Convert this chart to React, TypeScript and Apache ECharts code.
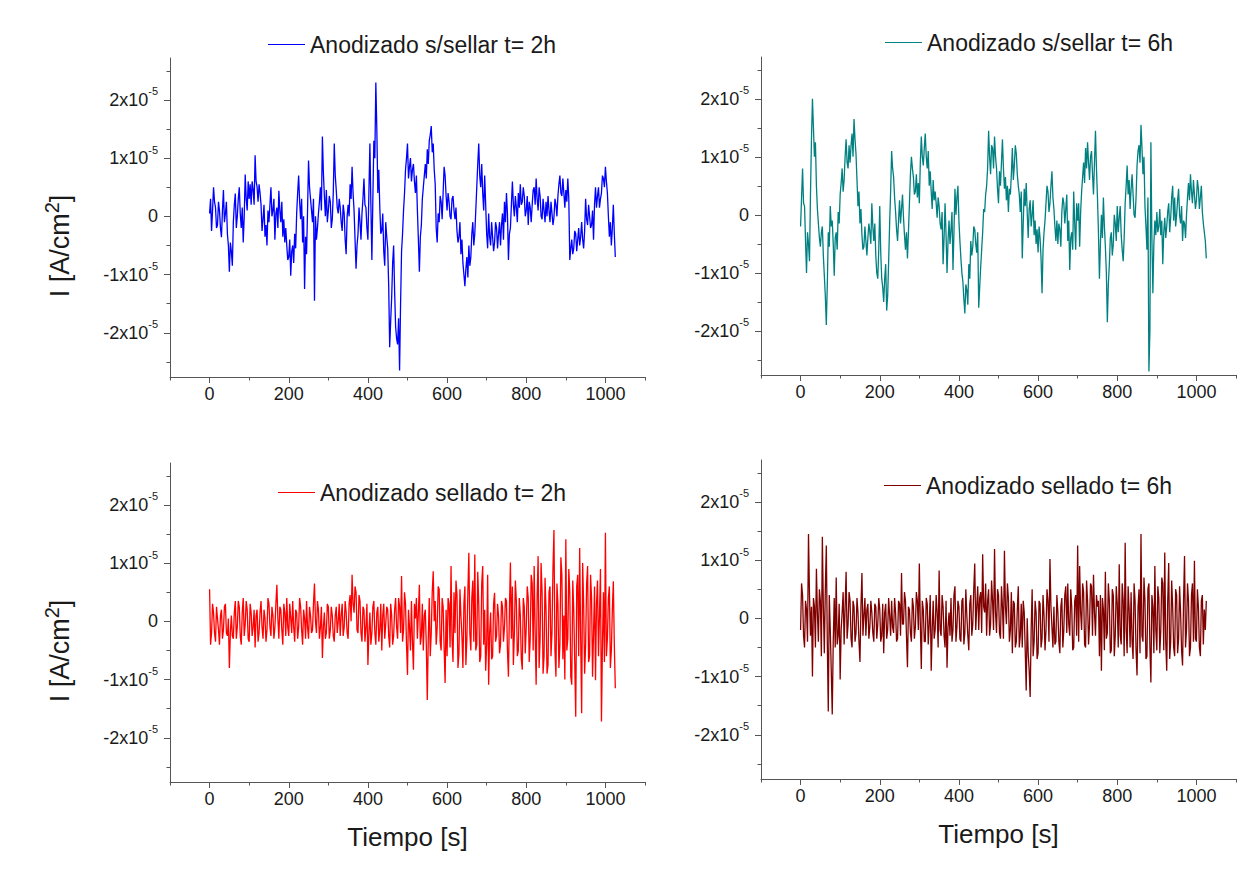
import React, { useEffect, useRef } from 'react';
import * as echarts from 'echarts';

// Sampling interval of the read-off values (seconds); "Mid" arrays are read half a step later
const STEP_S = 5;
// Values below are in units of 1e-6 A/cm2
const UNIT = 1e-6;

const sinSellar2h = [
  0.5, -2.5, 5.0, 1.5, -1.5, 1.0, -3.6, 4.5, 0.5, -3.0,
  -9.5, -6.0, -1.0, 3.9, 0.0, 5.0, -2.0, -4.5, 7.2, 1.0,
  3.0, 2.0, 4.5, 10.5, 5.0, 5.5, 2.0, -0.5, -3.5, -5.0,
  -1.0, 5.0, 1.0, -4.0, 1.5, 4.4, -1.0, -3.5, -4.5, -5.0,
  -7.0, -10.2, -5.0, -3.0, 0.5, 7.0, -0.5, -4.5, -12.5, -6.5,
  9.6, 3.0, -1.0, -14.5, -4.0, 0.5, 5.0, 13.7, 3.5, 4.5,
  1.0, 2.5, -0.5, 12.5, 4.5, 0.5, 1.5, -2.5, 0.5, -6.5,
  2.0, 5.5, 8.5, 1.0, -9.0, -3.0, -1.0, 0.5, 6.5, 1.5,
  -4.0, 12.5, -7.5, 13.0, 23.0, 4.0, 1.5, -2.5, -6.0, -1.0,
  -5.5, -22.5, -14.0, -5.0, -19.0, -22.0, -26.5, -6.0, 1.0, 8.0,
  12.5, 8.5, 6.0, 9.0, 4.0, 1.0, -9.5, -1.5, 5.0, 9.0,
  11.5, 13.0, 15.5, 12.5, 5.5, -4.5, -1.0, 2.5, 4.0, 7.0,
  1.0, 2.5, -0.5, 3.5, -0.5, -2.5, -3.5, -6.5, -8.0, -12.0,
  -7.0, -5.0, -7.0, -1.0, -3.0, 5.0, 12.5, 5.0, 4.0, 7.0,
  -3.0, 0.5, -5.0, -3.5, -4.5, -2.0, -3.0, -5.0, 0.5, 2.5,
  4.0, -7.5, -2.0, 6.0, 0.0, 1.5, 4.0, 5.5, 2.5, 3.5,
  1.0, -1.5, 1.5, 2.0, 5.0, 6.5, 1.0, 3.5, -0.5, 1.0,
  2.5, 3.5, -1.0, 0.5, -0.2, 2.0, 3.5, 7.0, 3.5, 4.0,
  4.5, 6.5, -7.5, -4.0, -5.5, -3.0, -4.0, -5.0, -1.0, -5.5,
  3.0, -1.5, 0.0, -1.5, -4.0, 5.0, 3.5, 1.5, 4.0, 6.5,
  8.5, 4.0, -3.5, -5.0, 2.0, -7.0,
];
const sinSellar2hMid = [
  3.0, 1.0, 2.5, -2.0, 2.5, -2.0, 1.0, -1.0, 2.5, -5.0,
  -4.5, -8.5, 2.0, -2.0, 3.0, 0.5, 1.5, 0.0, 3.0, 6.0,
  5.5, 6.0, 2.0, 6.0, 2.5, 4.0, -2.5, 2.0, -1.5, 1.0,
  2.0, 0.0, 3.0, 0.5, -2.0, 1.0, 2.5, -0.5, -2.0, -7.5,
  -4.0, -6.0, -8.0, -5.5, 4.0, 2.5, 3.0, 0.0, -3.5, 1.0,
  5.0, 1.0, 3.0, 0.0, -2.0, 2.5, 1.0, 7.5, 0.0, -1.0,
  3.5, -2.0, 4.0, 7.0, 1.5, 3.0, -1.0, 2.0, -4.0, 0.0,
  0.0, 3.0, 4.0, -4.0, -5.0, 1.5, -4.0, 3.0, 2.0, -2.0,
  4.0, 2.0, 3.0, 10.0, 15.0, 8.0, -3.0, 0.5, -8.5, -3.5,
  -12.0, -18.0, -8.0, -13.0, -21.0, -17.5, -15.0, -3.0, 4.0, 10.0,
  6.5, 10.0, 8.0, 6.0, 7.0, -4.0, -3.5, 3.0, 7.0, 6.5,
  9.0, 14.0, 11.0, 8.0, -2.0, 0.5, 3.5, -0.5, 8.5, 3.5,
  4.0, 0.0, 3.0, 1.0, 1.5, -4.5, -1.0, -4.0, -10.0, -9.0,
  -10.5, -8.5, -3.0, -5.0, 1.0, 9.0, 7.0, 9.0, 1.0, 2.0,
  -5.5, -3.5, -1.0, -6.0, -1.0, -5.5, -1.0, -1.5, -4.0, -1.0,
  0.5, -3.0, 2.0, 2.0, 3.5, -1.0, 1.5, 2.0, 5.0, 0.0,
  3.5, 2.5, -1.0, 4.5, 2.0, 3.0, 5.0, 0.0, 3.0, -1.0,
  0.0, 1.0, 2.5, -1.5, 3.0, 0.0, 5.5, 4.0, 6.5, 1.5,
  2.5, 3.0, -5.5, -6.5, -2.5, -6.0, -2.0, -3.5, -4.0, -2.5,
  -0.5, 2.0, -2.0, 1.0, 2.0, 1.5, 5.0, 3.0, 7.0, 5.0,
  6.0, 0.0, -1.0, -2.0, -3.0,
];

const sinSellar6h = [
  -2.0, 8.0, 1.5, -10.0, -5.0, 3.5, 20.0, 10.0, 5.0, -1.5,
  -5.5, -2.0, -10.5, -19.0, -3.0, 1.5, -1.0, -10.5, -3.0, 0.5,
  3.5, 8.0, 6.0, 13.0, 8.0, 9.0, 14.0, 16.5, 10.5, 1.5,
  -1.5, -3.5, -5.5, -4.5, -4.0, -3.0, 2.0, -4.5, -7.0, -11.0,
  1.5, -11.0, -15.0, -8.5, -14.0, -1.5, 11.0, 6.5, 0.5, -4.5,
  2.5, 1.0, -0.5, -6.0, -7.5, 2.0, 10.0, 6.5, 4.0, 3.0,
  2.0, 13.5, 8.5, 14.0, 8.0, 5.0, 4.0, 6.0, 4.0, -0.5,
  1.5, -2.5, -8.5, 2.0, -10.0, -1.0, -2.5, -9.5, 4.5, 3.0,
  -1.0, -7.5, -11.5, -17.0, -13.0, -8.5, -4.5, -5.5, -2.5, -6.5,
  -16.0, -9.0, -3.0, 0.5, 5.0, 14.5, 7.0, 11.5, 13.5, 8.0,
  2.0, 5.0, 13.0, 4.5, 2.5, 0.5, 3.5, 11.5, 8.5, 10.5,
  5.0, 0.5, -7.5, 4.5, 5.5, -4.0, 2.5, 0.0, -3.5, -5.0,
  -6.5, -4.0, -13.5, -3.0, 2.0, 4.0, 2.0, 7.5, 1.0, -4.5,
  -5.0, -2.5, 0.5, 2.0, 1.0, -4.5, -9.5, -3.0, 4.0, -6.0,
  -1.0, -5.5, 4.0, 9.0, 11.5, 12.5, 6.0, 11.0, 3.5, 14.5,
  3.0, -11.0, 0.0, 3.0, -5.5, -18.5, -8.5, -3.0, -5.0, -1.5,
  1.5, -0.5, -3.5, -8.0, 2.0, 8.5, 6.0, 4.5, 3.5, -0.5,
  8.5, 12.0, 15.5, 7.0, 1.5, -6.0, -27.0, 12.5, -13.5, -1.0,
  0.5, -2.0, -3.5, -8.5, -0.5, -2.0, 2.0, -0.5, 5.0, 3.0,
  0.0, 4.5, -1.5, -4.5, -1.5, 0.0, 5.5, 7.0, 2.0, 3.5,
  2.5, 4.5, 3.0, 0.5, -3.0, -7.5,
];
const sinSellar6hMid = [
  3.0, 2.0, -4.5, -3.0, -8.0, 13.0, 15.0, 12.5, 1.0, -4.0,
  -3.0, -7.0, -14.0, -12.0, -5.5, -2.0, -5.0, -4.0, -6.0, -1.5,
  5.5, 4.0, 10.0, 9.0, 12.0, 12.0, 10.0, 13.0, 6.0, 4.0,
  1.0, -6.0, -2.0, -7.0, -1.5, -5.0, -2.0, -1.5, -10.0, -6.0,
  -6.5, -12.5, -11.0, -16.5, -8.0, 4.0, 8.0, 3.0, -2.5, -1.0,
  -1.5, 3.5, -3.5, -3.0, -3.0, 7.0, 8.0, 3.5, 7.0, 5.5,
  9.0, 10.0, 11.5, 10.0, 11.0, 7.5, 1.0, 2.5, 2.0, 3.0,
  -1.5, 0.5, -4.0, -3.5, -4.5, -5.0, 0.5, -3.0, 0.0, 5.0,
  -4.5, -10.0, -14.5, -12.0, -15.5, -11.0, -7.0, -2.0, -5.0, -3.0,
  -12.5, -6.0, 1.0, 3.5, 8.0, 10.0, 12.0, 8.0, 10.0, 4.5,
  7.5, 9.0, 8.0, 6.5, 5.0, 4.5, 7.0, 6.0, 12.0, 7.0,
  3.5, 4.0, -1.5, 1.5, 0.5, 1.0, -2.0, 2.5, -1.0, -2.5,
  -2.0, -7.5, -6.0, -1.0, 5.0, 0.5, 5.0, 3.0, -2.0, -1.0,
  -1.5, -5.5, 3.0, -1.5, 3.5, -1.0, -4.0, -6.0, -1.5, 2.0,
  2.0, 0.5, 6.5, 5.5, 8.0, 9.0, 10.0, 7.0, 9.0, 8.0,
  -3.0, -5.0, -4.0, -2.0, -10.0, -12.0, -4.0, -7.0, 0.0, -4.5,
  -3.0, 1.5, -6.0, -4.0, 5.0, 3.5, 1.0, 7.0, 0.0, 3.0,
  11.0, 9.0, 11.5, 10.0, -2.0, 3.0, -20.0, -4.0, -5.0, -3.5,
  -3.0, 1.0, -1.0, -3.0, -4.0, 0.5, -3.0, 3.0, -1.0, -2.0,
  2.5, 0.0, 1.5, -1.0, -4.0, 3.0, 2.5, 4.0, 6.0, 1.0,
  6.0, 1.0, 5.0, -1.5, -4.5,
];

const sellado2h = [
  5.5, -2.0, 1.5, -3.5, 0.5, -4.0, 2.0, -1.5, 3.0, -2.5,
  -8.0, 1.0, -3.0, 3.5, -1.0, 2.5, -4.0, 4.0, -0.5, 2.0,
  -3.5, 1.5, -1.0, -4.5, 2.0, -2.0, 3.5, -3.0, 0.5, -1.5,
  3.0, -2.5, 1.0, -1.0, 6.3, -3.0, 2.0, -4.0, 1.5, 4.0,
  -2.5, 0.5, 3.5, -3.5, 1.5, -1.0, 2.5, -4.0, 0.5, 3.5,
  -3.0, 1.0, -1.5, 6.5, -2.0, 2.0, -1.0, -6.3, 1.5, -2.0,
  2.5, -1.5, 1.0, -3.5, 2.5, 0.0, -2.5, 3.0, -1.0, 1.5,
  -3.0, 4.5, 8.0, 1.5, 5.0, -2.0, 3.5, -3.5, 2.0, -1.0,
  -7.5, 1.5, -2.0, 3.5, -4.0, 2.5, -1.5, -5.0, 3.0, -0.5,
  2.0, -4.5, 1.0, -2.5, 4.0, -3.0, 2.5, 7.8, -1.5, 3.0,
  -9.2, -1.0, 3.5, -8.3, 0.5, -3.0, 6.3, -2.5, -5.0, 2.0,
  -13.5, 4.0, -2.0, 8.6, 3.5, -1.0, 5.5, -5.0, 2.5, -10.6,
  -6.0, 3.0, 9.5, -7.0, -2.0, 4.5, -5.5, 1.0, -8.0, 6.0,
  -3.0, 11.8, -5.0, 7.0, 11.5, -4.0, 3.0, -6.0, 9.5, 2.0,
  -4.0, -10.9, 1.5, -6.0, 4.9, -2.5, 1.0, -4.0, 2.5, -1.0,
  3.5, -9.5, 10.1, 6.0, -2.0, 3.5, -5.0, 1.0, -8.3, 2.5,
  -1.0, 4.0, -3.0, 6.5, 9.5, -10.9, 11.2, -3.0, 5.0, -6.0,
  2.0, -7.5, 6.0, -2.0, 15.7, -9.5, 3.0, -4.0, 8.0, 1.0,
  14.1, -3.0, 5.0, -10.9, 2.0, -16.4, 8.0, 12.6, -15.8, 3.0,
  -4.0, 9.5, -6.0, 4.0, -2.0, -10.1, 7.0, 1.0, -17.2, 5.0,
  15.2, -3.0, 6.0, -5.0, 6.9, -11.5,
];
const sellado2hMid = [
  -4.0, 3.0, -2.0, 2.5, -1.5, 1.0, -3.0, 2.5, -2.0, 0.5,
  -2.0, -2.5, 1.5, -3.0, 3.5, -2.5, 1.5, -2.5, 3.5, -3.0,
  3.0, -2.5, 2.0, 1.0, -3.5, 1.5, -1.0, 2.0, -3.5, 4.0,
  -1.0, 2.5, -3.0, 3.0, 0.5, 2.5, -1.5, 3.0, -2.5, -1.0,
  3.0, -2.0, -1.0, 2.0, -3.0, 4.0, -1.5, 2.0, -3.0, -1.0,
  2.5, -2.0, 3.0, 0.0, 3.5, -3.0, 2.5, -1.0, -3.0, 3.0,
  -3.0, 2.5, -2.5, 1.0, -2.0, 3.0, 1.0, -2.5, 3.5, -2.0,
  3.0, 0.0, 3.0, 6.0, -1.5, 4.5, -2.0, 2.5, -3.5, 3.0,
  -2.0, -4.0, 2.5, -2.0, 1.5, -3.5, 3.0, 1.0, -3.0, 2.5,
  -2.5, 3.0, -4.0, 2.0, -1.0, 4.0, -2.0, -3.5, 5.0, -4.0,
  2.0, -5.0, -3.5, 3.0, 4.0, 1.5, -4.0, 3.0, 1.0, -4.0,
  -3.0, -6.0, 5.0, 0.0, -4.0, 6.0, -3.5, 4.0, -4.5, 2.0,
  4.0, -4.5, -3.0, 5.0, 7.0, -8.0, 5.5, -2.5, 3.0, -7.5,
  5.0, -2.0, 4.0, -3.5, -5.0, 8.5, -7.0, 6.5, -4.0, -8.5,
  8.0, -2.0, -6.5, 3.0, -3.5, 3.0, -5.5, 3.5, -3.5, 4.0,
  -5.0, 2.0, -3.0, -7.5, 7.0, -6.0, 4.0, -6.5, 4.0, -5.5,
  6.0, -7.0, 8.0, -5.0, -2.0, 4.0, -8.0, 10.0, -9.0, 7.5,
  -9.0, 5.0, -6.0, 9.0, -5.0, 6.5, -8.0, 11.0, -6.5, -10.0,
  -5.0, 9.0, -9.5, 7.0, -7.0, 6.0, -6.0, -3.0, 10.0, -9.0,
  6.5, -7.0, 8.0, -9.5, 6.0, 3.0, -6.0, 9.0, -4.0, -7.0,
  -6.0, 4.0, -8.0, 2.0, -4.0,
];

const sellado6h = [
  -2.0, 4.0, -5.0, 1.5, 14.5, -3.0, -10.0, 2.0, 8.5, -4.0,
  3.0, 14.0, -6.0, 12.5, -16.0, -2.0, -16.5, 3.5, 7.0, -3.0,
  -10.5, 1.0, -4.5, 8.0, -1.0, 3.0, -5.0, 2.0, -2.5, 1.0,
  -7.5, 7.8, 0.5, -3.0, 2.5, -1.5, 1.0, -4.0, 2.0, -1.0,
  1.5, -3.0, -6.0, 2.5, -2.0, 0.5, 3.0, -2.5, 1.0, -3.5,
  2.5, 7.8, -1.0, 3.0, -8.4, 1.5, -4.0, 2.0, -1.5, 3.0,
  9.4, -8.7, 1.5, -4.0, 2.5, -1.0, -9.0, 3.0, -2.0, 1.0,
  8.2, -3.0, 2.0, -5.0, -8.5, 1.0, 3.5, -2.0, 5.5, -1.5,
  2.0, -4.0, 3.5, -2.5, 0.5, -5.5, 4.0, -1.0, 9.4, 2.0,
  -2.0, 4.5, 11.0, 1.0, -3.0, 5.0, -1.0, 3.0, 11.9, -2.5,
  4.0, -3.5, 2.0, 11.6, -1.0, 3.5, -2.0, -6.0, 2.5, -4.0,
  5.5, -3.0, -5.0, 1.0, -12.4, -6.0, -13.5, 5.0, -4.0, 1.0,
  -6.0, 2.5, -3.5, 0.5, -2.0, 3.0, 10.2, -1.5, 2.0, -4.0,
  1.0, -6.0, 3.5, -2.0, 5.5, 6.0, -3.0, 2.0, -5.0, 4.0,
  12.5, 9.0, -2.0, 4.5, -5.0, 3.0, -1.0, 5.5, 7.5, -3.0,
  2.0, -6.5, -9.0, 1.5, 8.0, -2.5, 3.0, -5.5, 4.0, -3.0,
  2.5, 9.3, -4.5, 3.0, 13.0, -6.0, 1.5, 4.5, -7.0, 3.0,
  -9.8, 5.0, 14.5, -4.0, 3.0, -6.5, 6.0, -11.0, 2.0, 9.0,
  -5.5, 3.5, -2.0, 6.0, 11.3, -9.0, 9.5, -4.0, 2.0, -6.5,
  4.0, -3.5, 1.0, -8.1, 10.7, -2.0, 3.0, -5.0, 6.0, 9.9,
  -4.0, 2.0, -6.5, 4.0, 1.5, 3.0,
];
const sellado6hMid = [
  6.0, -3.0, 3.0, -4.0, 4.0, 2.0, 3.5, -5.0, 1.0, 5.0,
  -6.5, 2.0, 5.0, -4.0, 4.0, -9.0, -4.0, -5.0, -4.5, 2.5,
  -2.0, 4.5, 2.0, -3.5, 4.5, -3.5, 3.0, -4.0, 3.5, -4.0,
  2.0, -3.0, 3.5, 1.5, -3.5, 3.0, -2.5, 2.5, -3.5, 3.5,
  -4.0, 2.5, 1.0, -3.5, 3.5, -3.0, -1.5, 3.5, -4.0, 3.0,
  -3.0, -1.0, 4.5, -3.0, 2.0, -2.5, 3.5, -3.5, 4.5, -2.0,
  -1.0, 3.0, -4.0, 3.5, -4.5, 4.0, -2.0, -3.5, 4.0, -5.0,
  -2.0, 4.0, -3.0, 3.0, -1.5, -3.0, -4.0, 4.0, -4.0, 3.0,
  -3.5, 3.0, -4.5, 5.0, -3.0, 2.5, -3.0, 5.0, -2.0, 5.5,
  3.5, -2.5, 2.0, 6.0, 3.0, -3.0, 6.5, -2.0, 1.0, 5.0,
  -2.5, 5.5, -3.5, 2.0, 6.0, -4.0, 4.5, 3.0, -5.0, 1.5,
  -5.0, 2.5, 3.0, -5.5, 0.0, -9.0, -2.0, -6.5, 3.0, -7.0,
  3.0, -5.0, 4.0, -5.5, 5.0, -4.0, 2.0, -5.0, -4.5, 4.0,
  -4.0, 2.0, -5.0, 4.0, -2.5, -1.0, 5.0, -5.5, 3.0, -3.0,
  -4.0, 1.0, 6.0, -4.5, 6.5, -4.5, 6.0, -3.0, 1.0, 4.0,
  3.0, 4.0, 3.5, -5.5, -3.5, 6.0, -6.0, 5.0, -6.5, 5.5,
  -5.0, -3.0, 6.0, -6.5, -2.0, 5.5, -5.0, -4.0, 6.0, -5.5,
  2.0, -6.0, -3.0, 7.0, -7.0, 5.0, -5.0, 4.0, -6.0, -2.0,
  5.5, -6.0, 7.0, -5.5, -4.0, 3.0, -7.0, 6.5, -5.0, 5.0,
  -6.0, 5.5, -5.5, 3.0, -5.0, 6.0, -6.5, 4.0, -4.0, -3.5,
  5.0, -5.0, 3.0, -4.5, -2.0,
];

const seriesNames = [
  'Anodizado s/sellar t= 2h',
  'Anodizado s/sellar t= 6h',
  'Anodizado sellado t= 2h',
  'Anodizado sellado t= 6h',
];
const seriesValues = [sinSellar2h, sinSellar6h, sellado2h, sellado6h];
const seriesMidValues = [sinSellar2hMid, sinSellar6hMid, sellado2hMid, sellado6hMid];
const seriesColors = ['#0000ff', '#008080', '#ff0000', '#800000'];

const xLabelTicks = [0, 200, 400, 600, 800, 1000];
const xMinorTicks = [-100, 100, 300, 500, 700, 900, 1100];
const yLabelTicks = [-2e-5, -1e-5, 0, 1e-5, 2e-5];
const yMinorTicks = [-2.5e-5, -1.5e-5, -0.5e-5, 0.5e-5, 1.5e-5, 2.5e-5];
const X_MIN = -100;
const X_MAX = 1100;
const Y_MIN = -2.76e-5;
const Y_MAX = 2.72e-5;

const xTitle = 'Tiempo [s]';

const FONT = "'Liberation Sans', Arial, Helvetica, sans-serif";
const AXIS_COLOR = '#555';
const TEXT_COLOR = '#1a1a1a';

const layout = [
  { grid: { left: 170, top: 58, width: 475, height: 319 }, legend: { left: 268, top: 33 } },
  { grid: { left: 761, top: 57, width: 475, height: 318 }, legend: { left: 885, top: 31 } },
  { grid: { left: 170, top: 463, width: 475, height: 319 }, legend: { left: 278, top: 481 } },
  { grid: { left: 761, top: 460, width: 475, height: 319 }, legend: { left: 884, top: 474 } },
];

function buildSeriesData(main: number[], mid: number[]) {
  const out: number[][] = [];
  main.forEach((v, i) => {
    out.push([i * STEP_S, v * UNIT]);
    if (i < mid.length) out.push([i * STEP_S + STEP_S / 2, mid[i] * UNIT]);
  });
  return out;
}

function buildOption() {
  const grids = layout.map((l) => ({ ...l.grid, containLabel: false }));
  const xAxis: any[] = [];
  const yAxis: any[] = [];
  layout.forEach((_, g) => {
    xAxis.push({
      type: 'value', gridIndex: g, min: X_MIN, max: X_MAX, position: 'bottom',
      axisLine: { show: true, onZero: false, lineStyle: { color: AXIS_COLOR, width: 1 } },
      axisTick: { show: true, inside: false, length: 6, customValues: xLabelTicks, lineStyle: { color: AXIS_COLOR } },
      axisLabel: {
        show: true, customValues: xLabelTicks, fontSize: 18, fontFamily: FONT, color: TEXT_COLOR, margin: 8,
        formatter: (v: number) => String(Math.round(v)),
      },
      splitLine: { show: false },
    });
    xAxis.push({
      type: 'value', gridIndex: g, min: X_MIN, max: X_MAX, position: 'bottom',
      axisLine: { show: false, onZero: false },
      axisTick: { show: true, inside: false, length: 3.5, customValues: xMinorTicks, lineStyle: { color: AXIS_COLOR } },
      axisLabel: { show: false },
      splitLine: { show: false },
    });
    yAxis.push({
      type: 'value', gridIndex: g, min: Y_MIN, max: Y_MAX, position: 'left',
      axisLine: { show: true, onZero: false, lineStyle: { color: AXIS_COLOR, width: 1 } },
      axisTick: { show: true, inside: false, length: 6, customValues: yLabelTicks, lineStyle: { color: AXIS_COLOR } },
      axisLabel: {
        show: true, customValues: yLabelTicks, margin: 12,
        formatter: (v: number) => {
          const n = Math.round(v / 1e-5);
          return n === 0 ? '{a|0}' : `{a|${n}x10}{b|-5}`;
        },
        rich: {
          a: { fontSize: 18, fontFamily: FONT, color: TEXT_COLOR, lineHeight: 28 },
          b: { fontSize: 11, fontFamily: FONT, color: TEXT_COLOR, verticalAlign: 'top' },
        },
      },
      splitLine: { show: false },
    });
    yAxis.push({
      type: 'value', gridIndex: g, min: Y_MIN, max: Y_MAX, position: 'left',
      axisLine: { show: false, onZero: false },
      axisTick: { show: true, inside: false, length: 3.5, customValues: yMinorTicks, lineStyle: { color: AXIS_COLOR } },
      axisLabel: { show: false },
      splitLine: { show: false },
    });
  });

  const series = seriesValues.map((vals, g) => ({
    name: seriesNames[g],
    type: 'line',
    xAxisIndex: 2 * g,
    yAxisIndex: 2 * g,
    symbol: 'none',
    showSymbol: false,
    color: seriesColors[g],
    lineStyle: { color: seriesColors[g], width: 1.3 },
    data: buildSeriesData(vals, seriesMidValues[g]),
    silent: true,
  }));

  const legend = layout.map((l, g) => ({
    data: [seriesNames[g]],
    left: l.legend.left,
    top: l.legend.top,
    padding: 0,
    icon: 'rect',
    itemWidth: 37,
    itemHeight: 1.2,
    selectedMode: false,
    textStyle: { fontSize: 23, fontFamily: FONT, color: TEXT_COLOR },
  }));

  const yTitleStyle = (y: number) => ({
    type: 'text',
    x: 60,
    y,
    rotation: Math.PI / 2,
    style: {
      text: '{a|I [A/cm}{b|2}{a|]}',
      textAlign: 'center',
      textVerticalAlign: 'middle',
      rich: {
        a: { fontSize: 27, fontFamily: FONT, fill: TEXT_COLOR, lineHeight: 36 },
        b: { fontSize: 20, fontFamily: FONT, fill: TEXT_COLOR, verticalAlign: 'top' },
      },
    },
  });
  const xTitleStyle = (x: number, y: number) => ({
    type: 'text',
    x,
    y,
    style: {
      text: xTitle,
      textAlign: 'center',
      textVerticalAlign: 'middle',
      fontSize: 26,
      fontFamily: FONT,
      fill: TEXT_COLOR,
    },
  });

  return {
    animation: false,
    backgroundColor: '#ffffff',
    grid: grids,
    xAxis,
    yAxis,
    legend,
    series,
    graphic: [
      yTitleStyle(246),
      yTitleStyle(651),
      xTitleStyle(407.5, 837),
      xTitleStyle(998.5, 834),
    ],
  };
}

export default function App() {
  const ref = useRef<HTMLDivElement>(null);
  useEffect(() => {
    if (!ref.current) return;
    const chart = echarts.init(ref.current, undefined, { renderer: 'svg' });
    chart.setOption(buildOption() as any);
    return () => chart.dispose();
  }, []);
  return (
    <div
      ref={ref}
      style={{ position: 'absolute', left: 0, top: 0, width: 1244, height: 872, background: '#fff' }}
    />
  );
}
